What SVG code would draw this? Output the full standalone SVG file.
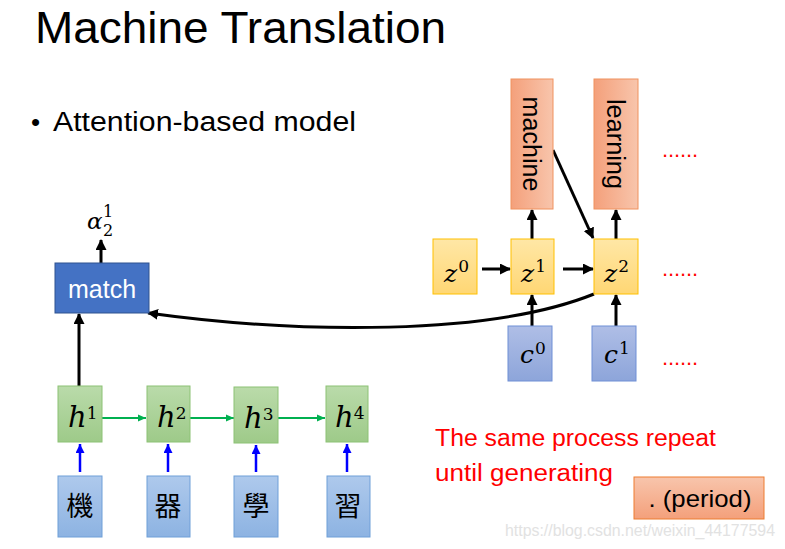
<svg xmlns="http://www.w3.org/2000/svg" width="785" height="549" viewBox="0 0 785 549">
<style>
.s{font-family:"Liberation Sans",Arial,sans-serif}
.m{font-family:"DejaVu Serif","Liberation Serif",serif;font-style:italic;fill:#000}
.d{font-style:normal}
.h{font-size:29px}
.z{font-size:25px}
.cjk{font-family:"Noto Sans CJK TC","Noto Sans CJK SC",sans-serif;font-size:27px;text-anchor:middle}
.bk{stroke:#000;stroke-width:3;fill:none}
.gr{stroke:#00B050;stroke-width:2;fill:none}
.bl{stroke:#0000FF;stroke-width:2.5;fill:none}
.dots{fill:#FF0000;font-size:22px}
</style>
<defs>
<linearGradient id="gH" x1="0" y1="0" x2="0" y2="1"><stop offset="0" stop-color="#BADBAA"/><stop offset="1" stop-color="#9ECA89"/></linearGradient>
<linearGradient id="gX" x1="0" y1="0" x2="0" y2="1"><stop offset="0" stop-color="#AEC9EC"/><stop offset="1" stop-color="#8DB3E2"/></linearGradient>
<linearGradient id="gZ" x1="0" y1="0" x2="0" y2="1"><stop offset="0" stop-color="#FFE7A6"/><stop offset="1" stop-color="#FFD774"/></linearGradient>
<linearGradient id="gC" x1="0" y1="0" x2="0" y2="1"><stop offset="0" stop-color="#AFBEE6"/><stop offset="1" stop-color="#8DA5DA"/></linearGradient>
<linearGradient id="gO" x1="0" y1="0" x2="1" y2="0"><stop offset="0" stop-color="#F4A07B"/><stop offset="1" stop-color="#F8C5AC"/></linearGradient>
<linearGradient id="gP" x1="0" y1="0" x2="0" y2="1"><stop offset="0" stop-color="#F8C5AC"/><stop offset="1" stop-color="#F4A07B"/></linearGradient>
<marker id="aK" markerUnits="userSpaceOnUse" markerWidth="11" markerHeight="11" refX="10" refY="5.5" orient="auto"><path d="M0,0 L11,5.5 L0,11 z" fill="#000"/></marker>
<marker id="aG" markerUnits="userSpaceOnUse" markerWidth="8" markerHeight="8" refX="8" refY="4" orient="auto"><path d="M0,0.5 L8,4 L0,7.5 z" fill="#00B050"/></marker>
<marker id="aB" markerUnits="userSpaceOnUse" markerWidth="9" markerHeight="9" refX="9" refY="4.5" orient="auto"><path d="M0,0 L9,4.5 L0,9 z" fill="#0000FF"/></marker>
</defs>
<rect width="785" height="549" fill="#fff"/>

<g id="title">
<text class="s" x="35" y="43" font-size="44" textLength="411" lengthAdjust="spacingAndGlyphs">Machine Translation</text>
</g>
<g id="bullet">
<text class="s" x="31" y="131" font-size="26">•</text>
<text class="s" x="53" y="131" font-size="27" textLength="303" lengthAdjust="spacingAndGlyphs">Attention-based model</text>
</g>

<g id="connectors">
<line class="bk" x1="101" y1="263" x2="101" y2="240" marker-end="url(#aK)"/>
<line class="bk" x1="79" y1="386" x2="79" y2="314" marker-end="url(#aK)"/>
<path class="bk" d="M594,294 C490,336 300,334 148,313" marker-end="url(#aK)"/>
<line class="gr" x1="102" y1="418" x2="146" y2="418" marker-end="url(#aG)"/>
<line class="gr" x1="189" y1="418" x2="234" y2="418" marker-end="url(#aG)"/>
<line class="gr" x1="278" y1="418" x2="325" y2="418" marker-end="url(#aG)"/>
<line class="bl" x1="80" y1="472" x2="80" y2="444" marker-end="url(#aB)"/>
<line class="bl" x1="168" y1="472" x2="168" y2="444" marker-end="url(#aB)"/>
<line class="bl" x1="256" y1="472" x2="256" y2="445" marker-end="url(#aB)"/>
<line class="bl" x1="347" y1="472" x2="347" y2="444" marker-end="url(#aB)"/>
<line class="bk" x1="482" y1="269" x2="510" y2="269" marker-end="url(#aK)"/>
<line class="bk" x1="563" y1="269" x2="593" y2="269" marker-end="url(#aK)"/>
<line class="bk" x1="532" y1="239" x2="532" y2="210" marker-end="url(#aK)"/>
<line class="bk" x1="616" y1="239" x2="616" y2="210" marker-end="url(#aK)"/>
<line class="bk" x1="553" y1="150" x2="593" y2="238" marker-end="url(#aK)"/>
<line class="bk" x1="532" y1="326" x2="532" y2="295" marker-end="url(#aK)"/>
<line class="bk" x1="616" y1="326" x2="616" y2="295" marker-end="url(#aK)"/>
</g>

<g id="match">
<rect x="55" y="263" width="94" height="50" fill="#4472C4" stroke="#2F528F" stroke-width="1"/>
<text class="s" x="102" y="298" font-size="25" fill="#fff" text-anchor="middle">match</text>
</g>
<g id="alpha">
<text class="m" font-size="23"><tspan x="87" y="229">α</tspan><tspan class="d" x="103" y="217" font-size="16">1</tspan><tspan class="d" x="103" y="236" font-size="16">2</tspan></text>
</g>

<g id="h1"><rect x="58" y="386" width="44" height="56" fill="url(#gH)" stroke="#8CC274"/><text class="m h" x="68" y="427">h<tspan class="d" dy="-8" font-size="17">1</tspan></text></g>
<g id="h2"><rect x="147" y="386" width="43" height="56" fill="url(#gH)" stroke="#8CC274"/><text class="m h" x="157" y="427">h<tspan class="d" dy="-8" font-size="17">2</tspan></text></g>
<g id="h3"><rect x="234" y="387" width="44" height="56" fill="url(#gH)" stroke="#8CC274"/><text class="m h" x="244" y="428">h<tspan class="d" dy="-8" font-size="17">3</tspan></text></g>
<g id="h4"><rect x="326" y="386" width="42" height="56" fill="url(#gH)" stroke="#8CC274"/><text class="m h" x="335" y="427">h<tspan class="d" dy="-8" font-size="17">4</tspan></text></g>

<g id="x1"><rect x="58" y="476" width="44" height="61" fill="url(#gX)" stroke="#6E9FD8"/><text class="cjk" x="80" y="516">機</text></g>
<g id="x2"><rect x="147" y="476" width="43" height="61" fill="url(#gX)" stroke="#6E9FD8"/><text class="cjk" x="168" y="516">器</text></g>
<g id="x3"><rect x="234" y="476" width="44" height="61" fill="url(#gX)" stroke="#6E9FD8"/><text class="cjk" x="256" y="516">學</text></g>
<g id="x4"><rect x="327" y="476" width="43" height="61" fill="url(#gX)" stroke="#6E9FD8"/><text class="cjk" x="348" y="516">習</text></g>

<g id="z0"><rect x="433" y="239" width="44" height="55" fill="url(#gZ)" stroke="#FFC000"/><text class="m z" x="444" y="282">z<tspan class="d" dx="1" dy="-10" font-size="17">0</tspan></text></g>
<g id="z1"><rect x="511" y="239" width="43" height="55" fill="url(#gZ)" stroke="#FFC000"/><text class="m z" x="521" y="282">z<tspan class="d" dx="1" dy="-10" font-size="17">1</tspan></text></g>
<g id="z2"><rect x="594" y="239" width="44" height="55" fill="url(#gZ)" stroke="#FFC000"/><text class="m z" x="604" y="282">z<tspan class="d" dx="1" dy="-10" font-size="17">2</tspan></text></g>

<g id="c0"><rect x="508" y="326" width="44" height="55" fill="url(#gC)" stroke="#6F8FD6"/><text class="m z" x="520" y="363">c<tspan class="d" dx="1" dy="-9" font-size="17">0</tspan></text></g>
<g id="c1"><rect x="592" y="326" width="44" height="55" fill="url(#gC)" stroke="#6F8FD6"/><text class="m z" x="604" y="363">c<tspan class="d" dx="1" dy="-9" font-size="17">1</tspan></text></g>

<g id="y1"><rect x="511" y="79" width="42" height="130" fill="url(#gO)" stroke="#F0925F"/><text class="s" transform="translate(532,144) rotate(90)" x="0" y="9" font-size="26" text-anchor="middle" textLength="95" lengthAdjust="spacingAndGlyphs">machine</text></g>
<g id="y2"><rect x="594" y="79" width="44" height="130" fill="url(#gO)" stroke="#F0925F"/><text class="s" transform="translate(616,144) rotate(90)" x="0" y="9" font-size="26" text-anchor="middle" textLength="90" lengthAdjust="spacingAndGlyphs">learning</text></g>

<g id="dots">
<text class="s dots" x="662" y="157" textLength="36" lengthAdjust="spacing">......</text>
<text class="s dots" x="662" y="276" textLength="36" lengthAdjust="spacing">......</text>
<text class="s dots" x="662" y="365" textLength="36" lengthAdjust="spacing">......</text>
</g>

<g id="note">
<text class="s" x="435" y="446" font-size="23" fill="#FF0000" textLength="281" lengthAdjust="spacingAndGlyphs">The same process repeat</text>
<text class="s" x="435" y="481" font-size="23" fill="#FF0000" textLength="178" lengthAdjust="spacingAndGlyphs">until generating</text>
</g>
<g id="period">
<rect x="634" y="477" width="130" height="42" fill="url(#gP)" stroke="#ED7D31"/>
<text class="s" x="700" y="507" font-size="24" text-anchor="middle" textLength="103" lengthAdjust="spacingAndGlyphs">. (period)</text>
</g>
<text class="s" x="505" y="536" font-size="16" fill="#E2E2E2" textLength="270" lengthAdjust="spacingAndGlyphs">https://blog.csdn.net/weixin_44177594</text>
</svg>
